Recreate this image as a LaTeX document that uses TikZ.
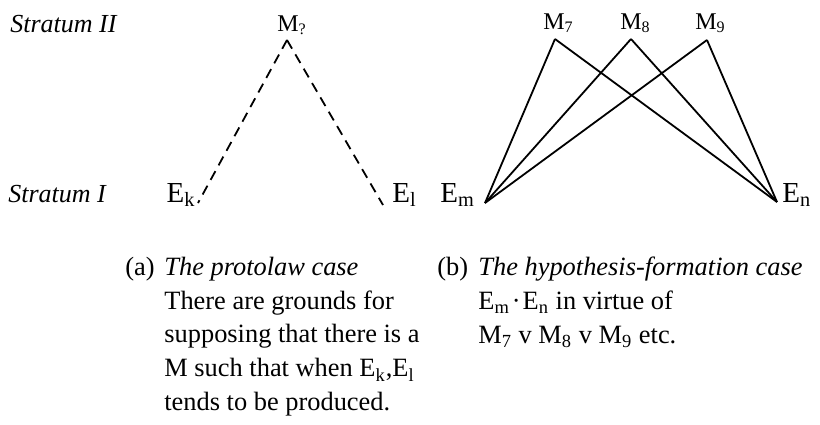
\documentclass[tikz,border=0pt]{standalone}
\usepackage{fontspec}
\setmainfont{Liberation Serif}
\usetikzlibrary{positioning}
\newcommand{\ix}[1]{\textsubscript{#1}}

\begin{document}
\begin{tikzpicture}[
    x=0.5pt, y=-0.5pt,
    stratum/.style={font=\fontsize{13}{15}\selectfont\itshape, inner sep=0pt, anchor=base west},
    mterm/.style={font=\fontsize{12}{14}\selectfont, inner sep=0pt, anchor=base west},
    eterm/.style={font=\fontsize{14.5}{16}\selectfont, inner sep=0pt},
    caption/.style={font=\fontsize{13.2}{16.8}\selectfont, inner sep=0pt, align=left},
    guess/.style={dash pattern=on 5pt off 3.3pt, line width=0.9pt},
    link/.style={line width=0.9pt}
]
    \useasboundingbox (0,0) rectangle (820,424);

    % strata
    \node[stratum] (upper) at (10,32) {Stratum II};
    \node[stratum] (lower) at (8,202) {Stratum I};

    % (a) protolaw case
    \coordinate (mq) at (287,40);
    \coordinate (ek) at (198,203);
    \coordinate (el) at (383,205);
    \node[mterm] (mqlab) at (277,31) {M\ix{?}};
    \node[eterm, anchor=base east] (eklab) at (196,202) {E\ix{k}};
    \node[eterm, anchor=base west] (ellab) at (392,202) {E\ix{l}};

    \draw[guess] (mq) -- (ek);
    \draw[guess] (mq) -- (el);

    % (b) hypothesis-formation case
    \coordinate (m7) at (555,39);
    \coordinate (m8) at (631,39);
    \coordinate (m9) at (707,40);
    \coordinate (em) at (485,203);
    \coordinate (en) at (777,202);
    \node[mterm] (m7lab) at (543,29) {M\ix{7}};
    \node[mterm] (m8lab) at (620,29) {M\ix{8}};
    \node[mterm] (m9lab) at (695,29) {M\ix{9}};
    \node[eterm, anchor=base west] (emlab) at (440,202) {E\ix{m}};
    \node[eterm, anchor=base west] (enlab) at (782,202) {E\ix{n}};

    \draw[link] (m7) -- (em);
    \draw[link] (m7) -- (en);
    \draw[link] (m8) -- (em);
    \draw[link] (m8) -- (en);
    \draw[link] (m9) -- (em);
    \draw[link] (m9) -- (en);

    % captions
    \node[caption, anchor=base west] (capa) at (125,275) {(a)};
    \node[caption, anchor=north west] (texta) at (164,257)
        {{\itshape The protolaw case}\\There are grounds for\\supposing that there is a\\M such that when E\ix{k},E\ix{l}\\tends to be produced.};
    \node[caption, anchor=base west] (capb) at (437,275) {(b)};
    \node[caption, anchor=north west] (textb) at (478,257)
        {{\itshape The hypothesis-formation case}\\E\ix{m}\kern1pt·\kern1ptE\ix{n} in virtue of\\M\ix{7} v M\ix{8} v M\ix{9} etc.};
\end{tikzpicture}
\end{document}
